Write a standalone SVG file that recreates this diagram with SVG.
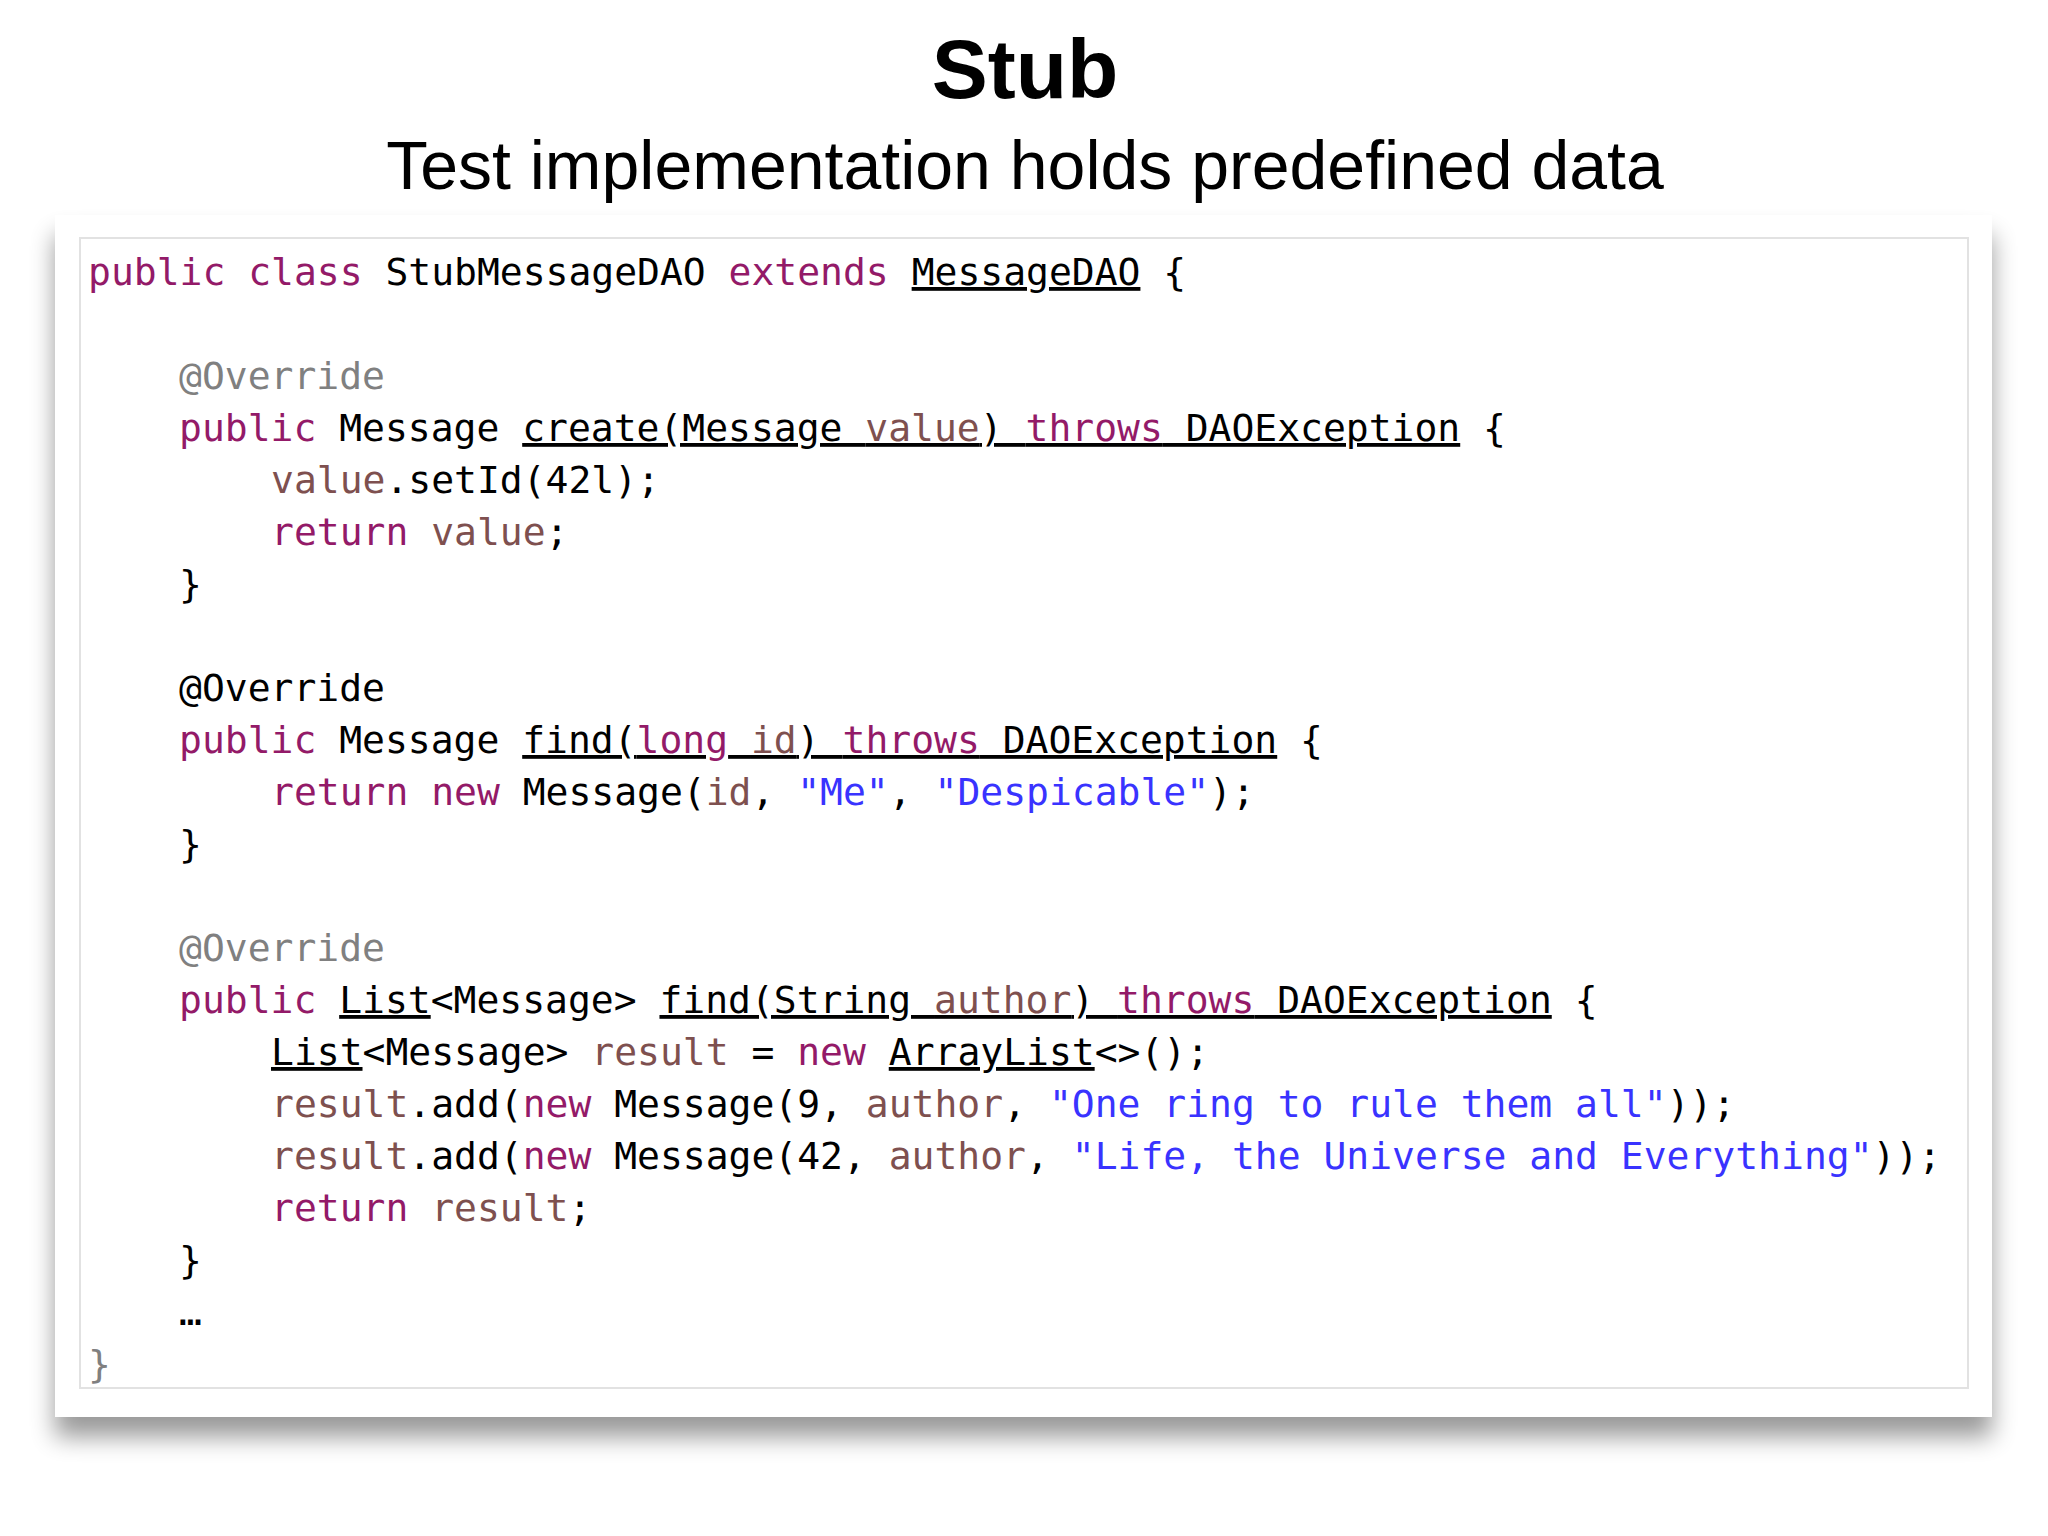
<svg xmlns="http://www.w3.org/2000/svg" width="2048" height="1536" viewBox="0 0 2048 1536">
<defs>
<filter id="sh" x="-5%" y="-5%" width="110%" height="115%"><feGaussianBlur in="SourceAlpha" stdDeviation="12"/><feOffset dy="20"/><feComponentTransfer><feFuncA type="linear" slope="0.4"/></feComponentTransfer><feMerge><feMergeNode/><feMergeNode in="SourceGraphic"/></feMerge></filter>
<style>
.c{font-family:"DejaVu Sans Mono","Liberation Mono",monospace;font-size:38px;fill:#000;white-space:pre}
.k{fill:#931a68}.v{fill:#7e504f}.a{fill:#808080}.s{fill:#3933ff}.u{text-decoration:underline}
.t{font-family:"Liberation Sans",Arial,sans-serif;fill:#000;text-anchor:middle}
</style>
</defs>
<rect width="2048" height="1536" fill="#fff"/>
<text class="t" x="1025" y="98" font-size="84" font-weight="bold">Stub</text>
<text class="t" x="1025" y="189" font-size="68">Test implementation holds predefined data</text>
<g id="panel">
<rect x="55" y="215" width="1937" height="1202" fill="#fff" filter="url(#sh)"/>
<rect x="80" y="238" width="1888" height="1150" fill="#fff" stroke="#e2e2e2" stroke-width="2"/>
</g>
<g id="code" class="c" xml:space="preserve">
<text x="88" y="285"><tspan class="k">public class</tspan> StubMessageDAO <tspan class="k">extends</tspan> <tspan class="u">MessageDAO</tspan> {</text>
<text x="179" y="389"><tspan class="a">@Override</tspan></text>
<text x="179" y="441"><tspan class="k">public</tspan> Message <tspan class="u">create(Message <tspan class="v">value</tspan>) <tspan class="k">throws</tspan> DAOException</tspan> {</text>
<text x="271" y="493"><tspan class="v">value</tspan>.setId(42l);</text>
<text x="271" y="545"><tspan class="k">return</tspan> <tspan class="v">value</tspan>;</text>
<text x="179" y="597">}</text>
<text x="179" y="701">@Override</text>
<text x="179" y="753"><tspan class="k">public</tspan> Message <tspan class="u">find(<tspan class="k">long</tspan> <tspan class="v">id</tspan>) <tspan class="k">throws</tspan> DAOException</tspan> {</text>
<text x="271" y="805"><tspan class="k">return new</tspan> Message(<tspan class="v">id</tspan>, <tspan class="s">"Me"</tspan>, <tspan class="s">"Despicable"</tspan>);</text>
<text x="179" y="857">}</text>
<text x="179" y="961"><tspan class="a">@Override</tspan></text>
<text x="179" y="1013"><tspan class="k">public</tspan> <tspan class="u">List</tspan>&lt;Message&gt; <tspan class="u">find(String <tspan class="v">author</tspan>) <tspan class="k">throws</tspan> DAOException</tspan> {</text>
<text x="271" y="1065"><tspan class="u">List</tspan>&lt;Message&gt; <tspan class="v">result</tspan> = <tspan class="k">new</tspan> <tspan class="u">ArrayList</tspan>&lt;&gt;();</text>
<text x="271" y="1117"><tspan class="v">result</tspan>.add(<tspan class="k">new</tspan> Message(9, <tspan class="v">author</tspan>, <tspan class="s">"One ring to rule them all"</tspan>));</text>
<text x="271" y="1169"><tspan class="v">result</tspan>.add(<tspan class="k">new</tspan> Message(42, <tspan class="v">author</tspan>, <tspan class="s">"Life, the Universe and Everything"</tspan>));</text>
<text x="271" y="1221"><tspan class="k">return</tspan> <tspan class="v">result</tspan>;</text>
<text x="179" y="1273">}</text>
<text x="179" y="1325">…</text>
<text x="88" y="1377"><tspan class="a">}</tspan></text>
</g>
</svg>
